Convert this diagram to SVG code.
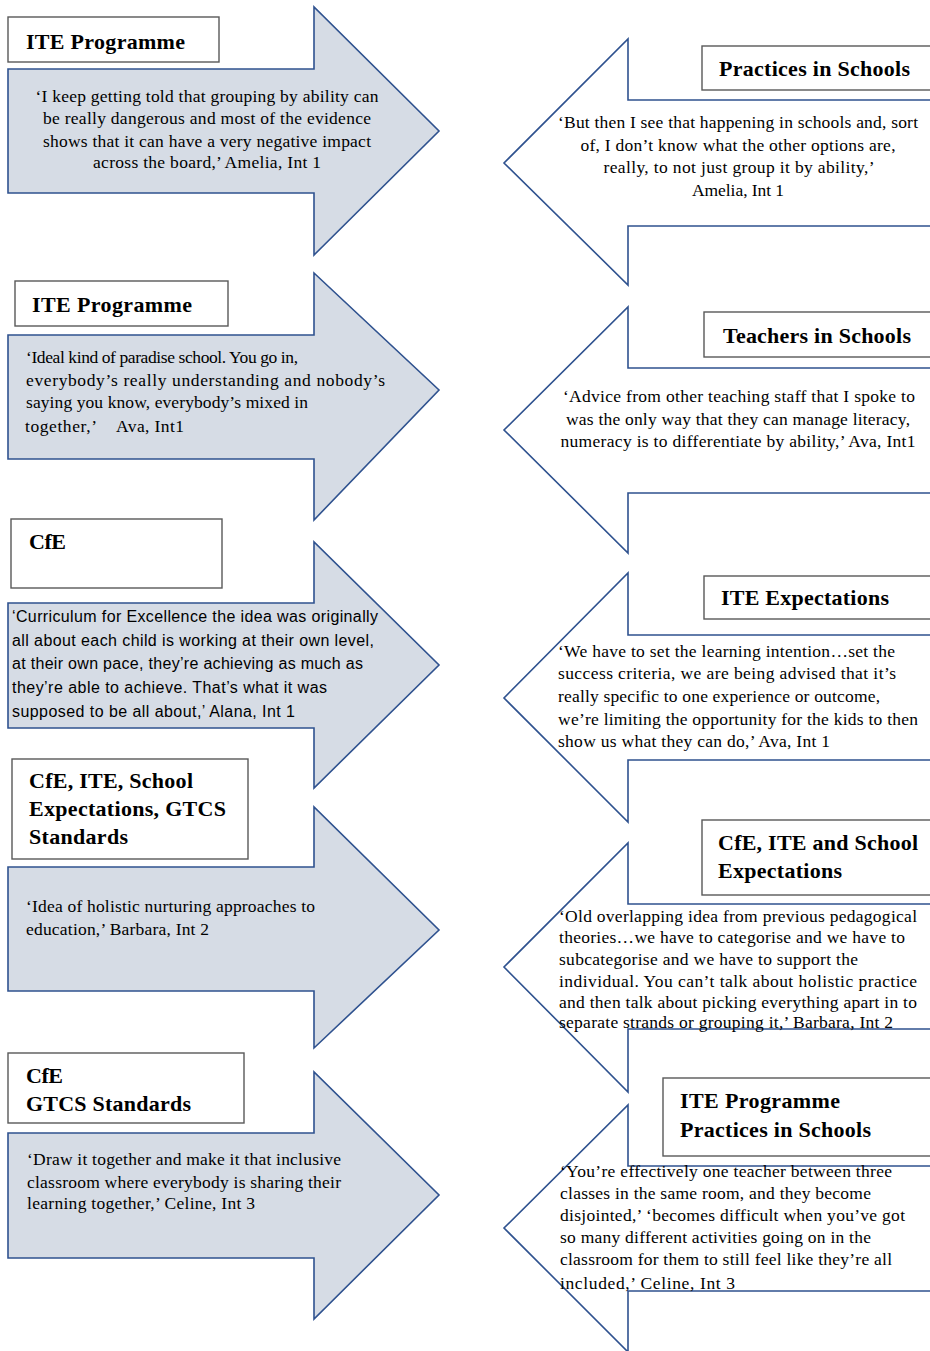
<svg xmlns="http://www.w3.org/2000/svg" width="930" height="1351" viewBox="0 0 930 1351">
<style>
.la{fill:#d6dce5;stroke:#2f528f;stroke-width:1.6}
.ra{fill:#ffffff;stroke:#2f528f;stroke-width:1.6}
.box{fill:#ffffff;stroke:#595959;stroke-width:1.4}
.lbl{font-family:"Liberation Serif",serif;font-weight:bold;font-size:22px;fill:#000}
.q{font-family:"Liberation Serif",serif;font-size:17.5px;fill:#000}
.qs{font-family:"Liberation Sans",Arial,sans-serif;font-size:16px;fill:#000}
.c{text-anchor:middle}
</style>
<rect width="930" height="1351" fill="#ffffff"/>
<g id="connectors"></g>

<g id="left1">
<path class="la" d="M8,69 L314,69 L314,7 L439,131 L314,255 L314,193 L8,193 Z"/>
<rect class="box" x="8" y="17" width="211" height="45"/>
<text class="lbl" x="26" y="49" textLength="159">ITE Programme</text>
<text class="q c" x="207" y="102" textLength="343">‘I keep getting told that grouping by ability can</text>
<text class="q c" x="207" y="124" textLength="328">be really dangerous and most of the evidence</text>
<text class="q c" x="207" y="147" textLength="328">shows that it can have a very negative impact</text>
<text class="q c" x="207" y="168" textLength="228">across the board,’ Amelia, Int 1</text>
</g>

<g id="right1">
<path class="ra" d="M935,100 L628,100 L628,39 L504,163 L628,285 L628,226 L935,226"/>
<rect class="box" x="702" y="46" width="240" height="44"/>
<text class="lbl" x="719" y="76" textLength="191">Practices in Schools</text>
<text class="q c" x="738" y="128" textLength="360">‘But then I see that happening in schools and, sort</text>
<text class="q c" x="738" y="151" textLength="315">of, I don’t know what the other options are,</text>
<text class="q c" x="739" y="173" textLength="271">really, to not just group it by ability,’</text>
<text class="q c" x="738" y="196" textLength="92">Amelia, Int 1</text>
</g>

<g id="left2">
<path class="la" d="M8,335 L314,335 L314,273 L439,390 L314,520 L314,459 L8,459 Z"/>
<rect class="box" x="15" y="281" width="213" height="45"/>
<text class="lbl" x="32" y="312" textLength="160">ITE Programme</text>
<text class="q" x="26" y="363" textLength="272">‘Ideal kind of paradise school. You go in,</text>
<text class="q" x="26" y="386" textLength="359">everybody’s really understanding and nobody’s</text>
<text class="q" x="26" y="408" textLength="282">saying you know, everybody’s mixed in</text>
<text class="q" x="25" y="432" textLength="72">together,’</text>
<text class="q" x="116" y="432" textLength="68">Ava, Int1</text>
</g>

<g id="right2">
<path class="ra" d="M935,368 L628,368 L628,307 L504,430 L628,553 L628,493 L935,493"/>
<rect class="box" x="704" y="312" width="240" height="45"/>
<text class="lbl" x="723" y="343" textLength="188">Teachers in Schools</text>
<text class="q c" x="739" y="402" textLength="352">‘Advice from other teaching staff that I spoke to</text>
<text class="q c" x="738" y="425" textLength="344">was the only way that they can manage literacy,</text>
<text class="q c" x="738" y="447" textLength="355">numeracy is to differentiate by ability,’ Ava, Int1</text>
</g>

<g id="left3">
<path class="la" d="M8,603 L314,603 L314,542 L439,665 L314,788 L314,728 L8,728 Z"/>
<rect class="box" x="11" y="519" width="211" height="69"/>
<text class="lbl" x="29" y="549" textLength="37">CfE</text>
<text class="qs" x="12" y="622" textLength="366">‘Curriculum for Excellence the idea was originally</text>
<text class="qs" x="12" y="646" textLength="362">all about each child is working at their own level,</text>
<text class="qs" x="12" y="669" textLength="351">at their own pace, they’re achieving as much as</text>
<text class="qs" x="12" y="693" textLength="315">they’re able to achieve. That’s what it was</text>
<text class="qs" x="12" y="717" textLength="283">supposed to be all about,’ Alana, Int 1</text>
</g>

<g id="right3">
<path class="ra" d="M935,635 L628,635 L628,573 L504,698 L628,822 L628,760 L935,760"/>
<rect class="box" x="704" y="576" width="240" height="43"/>
<text class="lbl" x="721" y="605" textLength="168">ITE Expectations</text>
<text class="q" x="558" y="657" textLength="337">‘We have to set the learning intention…set the</text>
<text class="q" x="558" y="679" textLength="338">success criteria, we are being advised that it’s</text>
<text class="q" x="558" y="702" textLength="322">really specific to one experience or outcome,</text>
<text class="q" x="558" y="725" textLength="360">we’re limiting the opportunity for the kids to then</text>
<text class="q" x="558" y="747" textLength="272">show us what they can do,’ Ava, Int 1</text>
</g>

<g id="left4">
<path class="la" d="M8,867 L314,867 L314,807 L439,930 L314,1048 L314,991 L8,991 Z"/>
<rect class="box" x="12" y="759" width="236" height="100"/>
<text class="lbl" x="29" y="788" textLength="164">CfE, ITE, School</text>
<text class="lbl" x="29" y="816" textLength="197">Expectations, GTCS</text>
<text class="lbl" x="29" y="844" textLength="99">Standards</text>
<text class="q" x="26" y="912" textLength="289">‘Idea of holistic nurturing approaches to</text>
<text class="q" x="26" y="935" textLength="183">education,’ Barbara, Int 2</text>
</g>

<g id="right4">
<path class="ra" d="M935,904 L628,904 L628,843 L504,967 L628,1092 L628,1029 L935,1029"/>
<rect class="box" x="702" y="820" width="240" height="75"/>
<text class="lbl" x="718" y="850" textLength="200">CfE, ITE and School</text>
<text class="lbl" x="718" y="878" textLength="124">Expectations</text>
<text class="q" x="559" y="922" textLength="358">‘Old overlapping idea from previous pedagogical</text>
<text class="q" x="559" y="943" textLength="346">theories…we have to categorise and we have to</text>
<text class="q" x="559" y="965" textLength="299">subcategorise and we have to support the</text>
<text class="q" x="559" y="987" textLength="358">individual. You can’t talk about holistic practice</text>
<text class="q" x="559" y="1008" textLength="358">and then talk about picking everything apart in to</text>
<text class="q" x="559" y="1028" textLength="334">separate strands or grouping it,’ Barbara, Int 2</text>
</g>

<g id="left5">
<path class="la" d="M8,1133 L314,1133 L314,1072 L439,1195 L314,1319 L314,1258 L8,1258 Z"/>
<rect class="box" x="8" y="1053" width="236" height="70"/>
<text class="lbl" x="26" y="1083" textLength="37">CfE</text>
<text class="lbl" x="26" y="1111" textLength="165">GTCS Standards</text>
<text class="q" x="27" y="1165" textLength="314">‘Draw it together and make it that inclusive</text>
<text class="q" x="27" y="1188" textLength="314">classroom where everybody is sharing their</text>
<text class="q" x="27" y="1209" textLength="228">learning together,’ Celine, Int 3</text>
</g>

<g id="right5">
<path class="ra" d="M935,1166 L628,1166 L628,1105 L504,1228 L628,1352 L628,1291 L935,1291"/>
<rect class="box" x="663" y="1078" width="280" height="78"/>
<text class="lbl" x="680" y="1108" textLength="160">ITE Programme</text>
<text class="lbl" x="680" y="1137" textLength="191">Practices in Schools</text>
<text class="q" x="560" y="1177" textLength="332">‘You’re effectively one teacher between three</text>
<text class="q" x="560" y="1199" textLength="311">classes in the same room, and they become</text>
<text class="q" x="560" y="1221" textLength="345">disjointed,’ ‘becomes difficult when you’ve got</text>
<text class="q" x="560" y="1243" textLength="311">so many different activities going on in the</text>
<text class="q" x="560" y="1265" textLength="332">classroom for them to still feel like they’re all</text>
<text class="q" x="560" y="1289" textLength="175">included,’ Celine, Int 3</text>
</g>
</svg>
